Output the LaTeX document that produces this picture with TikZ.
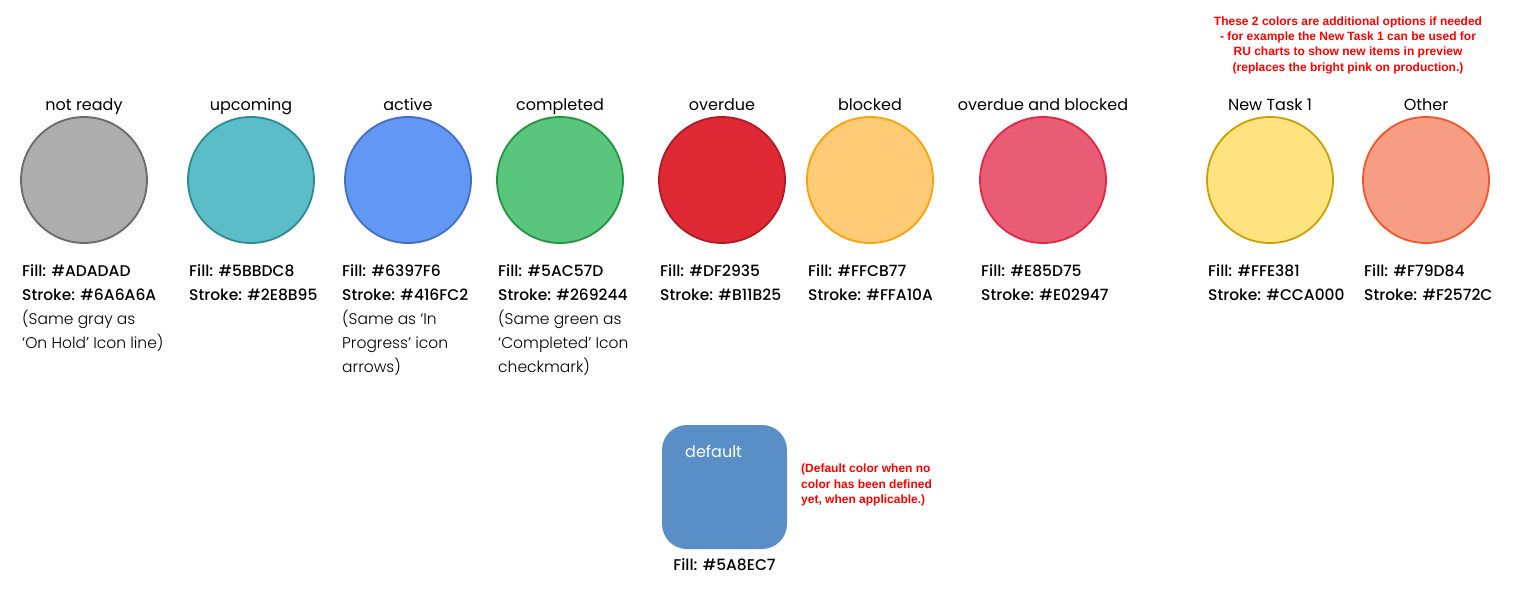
\documentclass[tikz,border=0pt]{standalone}
\usepackage{fontspec}
\setmainfont{Poppins}
\newfontfamily\lightfont{Poppins Light}
\newfontfamily\medfont{Poppins Medium}
\newfontfamily\notefont{Liberation Sans}
\usetikzlibrary{positioning}
\definecolor{nrfill}{HTML}{ADADAD}\definecolor{nrline}{HTML}{6A6A6A}
\definecolor{upfill}{HTML}{5BBDC8}\definecolor{upline}{HTML}{2E8B95}
\definecolor{acfill}{HTML}{6397F6}\definecolor{acline}{HTML}{416FC2}
\definecolor{cofill}{HTML}{5AC57D}\definecolor{coline}{HTML}{269244}
\definecolor{odfill}{HTML}{DF2935}\definecolor{odline}{HTML}{B11B25}
\definecolor{blfill}{HTML}{FFCB77}\definecolor{blline}{HTML}{FFA10A}
\definecolor{obfill}{HTML}{E85D75}\definecolor{obline}{HTML}{E02947}
\definecolor{ntfill}{HTML}{FFE381}\definecolor{ntline}{HTML}{CCA000}
\definecolor{otfill}{HTML}{F79D84}\definecolor{otline}{HTML}{F2572C}
\definecolor{dffill}{HTML}{5A8EC7}
\definecolor{notered}{HTML}{FF0000}
\tikzset{
    swatch/.style={circle, line width=1.8pt, minimum size=126pt, inner sep=0pt}, % the colour circles
    title/.style={font=\fontsize{16}{18}\selectfont, inner sep=0pt, text height=11pt, text depth=3.5pt},
    info/.style={anchor=north west, align=left, inner sep=0pt, font=\fontsize{15.5}{24}\selectfont},
    note/.style={text=notered, inner sep=0pt, font=\notefont\bfseries\fontsize{12}{15.3}\selectfont}
}

\begin{document}
\begin{tikzpicture}[x=1pt,y=-1pt]
    \useasboundingbox[fill=white] (0,0) rectangle (1514,594);

    % status circles
    \node[swatch, draw=nrline, fill=nrfill] (nr) at (84,180) {};
    \node[swatch, draw=upline, fill=upfill] (up) at (251,180) {};
    \node[swatch, draw=acline, fill=acfill] (ac) at (408,180) {};
    \node[swatch, draw=coline, fill=cofill] (co) at (560,180) {};
    \node[swatch, draw=odline, fill=odfill] (od) at (722,180) {};
    \node[swatch, draw=blline, fill=blfill] (bl) at (870,180) {};
    \node[swatch, draw=obline, fill=obfill] (ob) at (1043,180) {};
    \node[swatch, draw=ntline, fill=ntfill] (nt) at (1270,180) {};
    \node[swatch, draw=otline, fill=otfill] (ot) at (1426,180) {};

    % titles
    \node[title, above=1.5pt of nr] (nrt) {not ready};
    \node[title, above=1.5pt of up] (upt) {upcoming};
    \node[title, above=1.5pt of ac] (act) {active};
    \node[title, above=1.5pt of co] (cot) {completed};
    \node[title, above=1.5pt of od] (odt) {overdue};
    \node[title, above=1.5pt of bl] (blt) {blocked};
    \node[title, above=1.5pt of ob] (obt) {overdue and blocked};
    \node[title, above=1.5pt of nt] (ntt) {New Task 1};
    \node[title, above=1.5pt of ot] (ott) {Other};

    % colour codes
    \node[info] (nri) at (22,264) {\medfont Fill: \#ADADAD\\ \medfont Stroke: \#6A6A6A\\ \lightfont (Same gray as\\ \lightfont ‘On Hold’ Icon line)};
    \node[info] (upi) at (189,264) {\medfont Fill: \#5BBDC8\\ \medfont Stroke: \#2E8B95};
    \node[info] (aci) at (342,264) {\medfont Fill: \#6397F6\\ \medfont Stroke: \#416FC2\\ \lightfont (Same as ‘In\\ \lightfont Progress’ icon\\ \lightfont arrows)};
    \node[info] (coi) at (498,264) {\medfont Fill: \#5AC57D\\ \medfont Stroke: \#269244\\ \lightfont (Same green as\\ \lightfont ‘Completed’ Icon\\ \lightfont checkmark)};
    \node[info] (odi) at (660,264) {\medfont Fill: \#DF2935\\ \medfont Stroke: \#B11B25};
    \node[info] (bli) at (808,264) {\medfont Fill: \#FFCB77\\ \medfont Stroke: \#FFA10A};
    \node[info] (obi) at (981,264) {\medfont Fill: \#E85D75\\ \medfont Stroke: \#E02947};
    \node[info] (nti) at (1208,264) {\medfont Fill: \#FFE381\\ \medfont Stroke: \#CCA000};
    \node[info] (oti) at (1364,264) {\medfont Fill: \#F79D84\\ \medfont Stroke: \#F2572C};

    % extra colours note
    \node[note, align=center] (xnote) at (1348,45) {These 2 colors are additional options if needed\\ - for example the New Task 1 can be used for\\ RU charts to show new items in preview\\ (replaces the bright pink on production.)};

    % default colour
    \node[fill=dffill, rounded corners=25pt, minimum width=125pt, minimum height=124pt, inner sep=0pt] (df) at (724.5,487) {};
    \node[anchor=west, text=white, inner sep=0pt, font=\fontsize{16}{18}\selectfont] (dft) at (685,451) {default};
    \node[info, anchor=north, below=9pt of df] (dfi) {\medfont Fill: \#5A8EC7};
    \node[note, align=left, anchor=west] (dfnote) at (801,485) {(Default color when no\\ color has been defined\\ yet, when applicable.)};
\end{tikzpicture}
\end{document}
